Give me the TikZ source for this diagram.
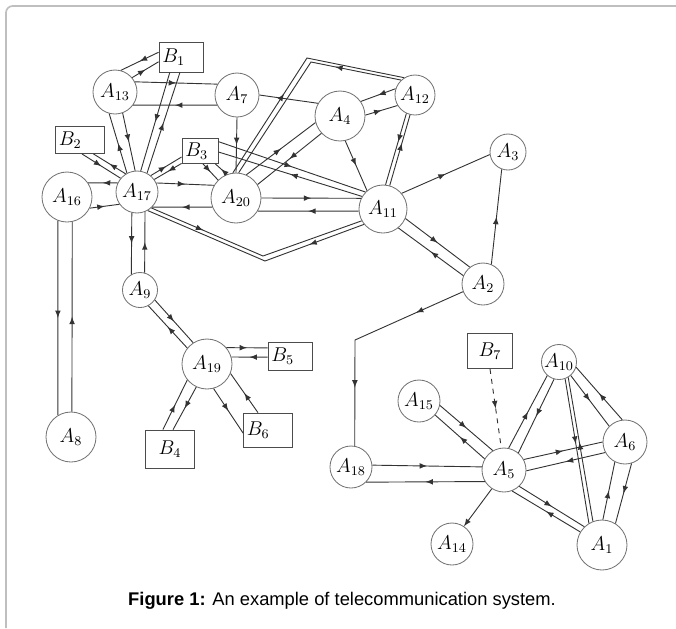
\documentclass[tikz,border=0pt]{standalone}
\usepackage{fontspec}
\newfontfamily\capfont{Liberation Sans}
\usetikzlibrary{positioning,arrows,shapes,calc,decorations.markings}

\tikzset{
  stn/.style={circle, draw=black!55, line width=0.5pt, inner sep=0pt, minimum size=#1,
    font=\fontsize{11.5}{13}\selectfont},
  term/.style={rectangle, draw=black!70, line width=0.5pt, inner ysep=0pt, inner xsep=2pt,
    align=left, font=\fontsize{11.5}{13}\selectfont},
  wire/.style={draw=black!80, line width=0.55pt},
  fwd/.style={postaction={decorate},
    decoration={markings, mark=at position #1 with {\arrow{latex}}}},
  fwd/.default=0.5
}

\begin{document}
\begin{tikzpicture}[x=0.6pt, y=-0.6pt]
  \useasboundingbox (0,0) rectangle (676,628);
  % frame
  \draw[gray!50, line width=1pt, rounded corners=4pt] (6,628) -- (6,6) -- (676,6);

  % stations
  \node[stn=26.4pt] (A13) at (115,92)  {$A_{13}$};
  \node[stn=26.4pt] (A7)  at (237,95)  {$A_{7}$};
  \node[stn=30pt]   (A4)  at (340,116) {$A_{4}$};
  \node[stn=24pt]   (A12) at (415,95)  {$A_{12}$};
  \node[stn=21.6pt] (A3)  at (508,152) {$A_{3}$};
  \node[stn=30pt]   (A16) at (67,197)  {$A_{16}$};
  \node[stn=25.2pt] (A17) at (137,192) {$A_{17}$};
  \node[stn=30pt]   (A20) at (236,198) {$A_{20}$};
  \node[stn=28.8pt] (A11) at (383,209) {$A_{11}$};
  \node[stn=25.2pt] (A2)  at (483,284) {$A_{2}$};
  \node[stn=21pt]   (A9)  at (140,290) {$A_{9}$};
  \node[stn=30pt]   (A19) at (207,364) {$A_{19}$};
  \node[stn=30pt]   (A8)  at (71,437)  {$A_{8}$};
  \node[stn=25.2pt] (A18) at (351,467) {$A_{18}$};
  \node[stn=25.2pt] (A15) at (419,401) {$A_{15}$};
  \node[stn=26.4pt] (A5)  at (504,470) {$A_{5}$};
  \node[stn=21pt]   (A10) at (559,362) {$A_{10}$};
  \node[stn=26.4pt] (A6)  at (625,442) {$A_{6}$};
  \node[stn=30pt]   (A1)  at (602,545) {$A_{1}$};
  \node[stn=25.2pt] (A14) at (452,544) {$A_{14}$};

  % terminals
  \node[term, text width=22.4pt, minimum height=18pt]   (B1) at (181,57)  {$B_1$};
  \node[term, text width=25.4pt, minimum height=16.2pt] (B2) at (80,140)  {$B_2$};
  \node[term, text width=17.6pt, minimum height=15pt]   (B3) at (200,151) {$B_3$};
  \node[term, text width=22.4pt, minimum height=16.8pt] (B5) at (290,356) {$B_5$};
  \node[term, text width=25.4pt, minimum height=22.8pt, align=center] (B4) at (170,449) {$B_4$};
  \node[term, text width=25.4pt, minimum height=20.4pt] (B6) at (268,430) {$B_6$};
  \node[term, text width=23pt,   minimum height=21pt, align=center]   (B7) at (490,351) {$B_7$};

  % corners of the bent links
  \coordinate (k1) at (307,58);
  \coordinate (k2) at (311,62);
  \coordinate (k3) at (263,256);
  \coordinate (k4) at (265,261);
  \coordinate (k5) at (355,340);

  % links, upper left
  \draw[wire,fwd] (B1.168) -- (A13.75);
  \draw[wire,fwd] (A13.40) -- (B1.192);
  \draw[wire,fwd] (A13.27) -- (A7.151);
  \draw[wire,fwd] (A7.207) -- (A13.324);
  \draw[wire,fwd] (B1.234) -- (A17.80);
  \draw[wire,fwd] (A17.62) -- (B1.266);
  \draw[wire,fwd] (A17.118) -- (A13.255);
  \draw[wire,fwd] (A13.290) -- (A17.95);
  \draw[wire,fwd] (B2.278) -- (A17.140);
  \draw[wire,fwd] (A17.122) -- (B2.314);
  \draw[wire,fwd] (A17.50) -- (B3.198);
  \draw[wire,fwd] (B3.214) -- (A17.36);
  \draw[wire,fwd] (A17.155) -- (A16.34);
  \draw[wire,fwd] (A16.334) -- (A17.215);
  \draw[wire,fwd] (A17.25) -- (A20.150);
  \draw[wire,fwd] (A20.201) -- (A17.315);
  \draw[wire,fwd] (B3.283) -- (A20.135);
  \draw[wire,fwd] (A20.111) -- (B3.320);
  \draw[wire,fwd] (A7.south) -- (A20.north);

  % links, upper right
  \draw[wire,fwd] (B3.27) -- (A11.136);
  \draw[wire,fwd] (A11.149) -- (B3.357);
  \draw[wire,fwd] (A20.66) -- (A4.195);
  \draw[wire,fwd] (A4.223) -- (A20.32);
  \draw[wire,fwd=0.4] (A20.97) -- (k1) -- (A12.122);
  \draw[wire,fwd=0.3] (A12.133) -- (k2) -- (A20.84);
  \draw[wire,fwd] (A12.162) -- (A4.35);
  \draw[wire,fwd] (A4.2) -- (A12.211);
  \draw[wire] (A7.east) -- (A4.150);
  \draw[wire,fwd] (A4.282) -- (A11.131);
  \draw[wire,fwd=0.4] (A12.245) -- (A11.84);
  \draw[wire,fwd=0.6] (A11.74) -- (A12.256);
  \draw[wire,fwd] (A20.0) -- (A11.154);
  \draw[wire,fwd] (A11.185) -- (A20.329);
  \draw[wire,fwd=0.25] (A17.312) -- (k3) -- (A11.209);
  \draw[wire,fwd=0.25] (A11.219) -- (k4) -- (A17.300);
  \draw[wire,fwd] (A11.40) -- (A3.188);
  \draw[wire,fwd] (A11.337) -- (A2.128);
  \draw[wire,fwd] (A2.157) -- (A11.309);
  \draw[wire,fwd] (A2.67) -- (A3.250);
  \draw[wire, postaction={decorate}, decoration={markings,
      mark=at position 0.23 with {\arrow{latex}},
      mark=at position 0.74 with {\arrow{latex}}}] (A2.201) -- (k5) -- (A18.80);

  % links, lower left
  \draw[wire,fwd] (A17.256) -- (A9.119);
  \draw[wire,fwd] (A9.75) -- (A17.292);
  \draw[wire,fwd] (A16.249) -- (A8.121);
  \draw[wire,fwd] (A8.88) -- (A16.282);
  \draw[wire,fwd] (A9.326) -- (A19.123);
  \draw[wire,fwd] (A19.141) -- (A9.298);
  \draw[wire,fwd] (A19.40) -- (B5.160);
  \draw[wire,fwd] (B5.183) -- (A19.16);
  \draw[wire,fwd] (B4.110) -- (A19.219);
  \draw[wire,fwd] (A19.245) -- (B4.81);
  \draw[wire,fwd] (A19.285) -- (B6.187);
  \draw[wire,fwd] (B6.120) -- (A19.338);

  % links, lower right
  \draw[wire,fwd] (A18.5) -- (A5.172);
  \draw[wire,fwd] (A5.211) -- (A18.315);
  \draw[wire,fwd] (A15.348) -- (A5.120);
  \draw[wire,fwd] (A5.150) -- (A15.319);
  \draw[wire,dashed,fwd] (B7.south) -- (A5.97);
  \draw[wire,-latex] (A5.237) -- (A14.56);
  \draw[wire,fwd] (A5.78) -- (A10.229);
  \draw[wire,fwd] (A10.254) -- (A5.50);
  \draw[wire,fwd] (A6.97) -- (A10.343);
  \draw[wire,fwd] (A10.311) -- (A6.135);
  \draw[wire,fwd=0.45] (A10.290) -- (A1.121);
  \draw[wire,fwd=0.55] (A1.111) -- (A10.301);
  \draw[wire,fwd] (A5.28) -- (A6.180);
  \draw[wire,fwd] (A6.208) -- (A5.358);
  \draw[wire,fwd] (A1.88) -- (A6.243);
  \draw[wire,fwd] (A6.287) -- (A1.58);
  \draw[wire,fwd] (A5.313) -- (A1.134);
  \draw[wire,fwd] (A1.149) -- (A5.291);

  % caption
  \node[font=\capfont\fontsize{11}{13}\selectfont] (cap) at (342,601)
    {\textbf{Figure 1:} An example of telecommunication system.};
\end{tikzpicture}
\end{document}
